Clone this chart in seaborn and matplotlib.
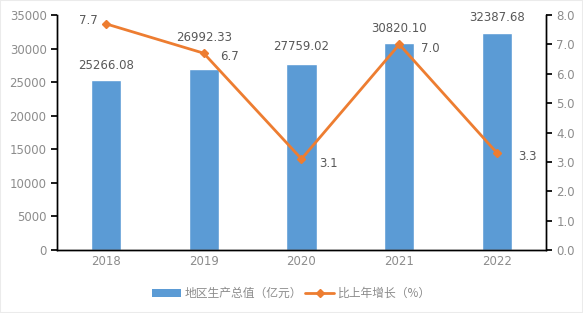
import matplotlib
matplotlib.use("Agg")
import matplotlib.pyplot as plt
import seaborn as sns
import pandas as pd
from matplotlib.lines import Line2D
from matplotlib.patches import Patch, Rectangle

years = ["2018", "2019", "2020", "2021", "2022"]
gdp = [25266.08, 26992.33, 27759.02, 30820.10, 32387.68]
growth = [7.7, 6.7, 3.1, 7.0, 3.3]
bar_label = "地区生产总值（亿元）"
line_label = "比上年增长（%）"

sns.set_theme(style="white")
plt.rcParams['font.family'] = ['Noto Sans CJK SC', 'DejaVu Sans']

df = pd.DataFrame({"year": years, "gdp": gdp, "growth": growth})

fig = plt.figure(figsize=(5.83, 3.13), dpi=100)
ax = fig.add_axes([0.0978, 0.2013, 0.8387, 0.7507])
bar_c = "#5B9BD5"
line_c = "#ED7D31"
txt_c = "#595959"
tick_c = "#8C8C8C"

sns.barplot(data=df, x="year", y="gdp", color=bar_c, width=0.31, ax=ax, saturation=1)
ax.set_ylim(0, 35000)
ax.set_yticks(range(0, 35001, 5000))
ax.set_xlim(-0.5, 4.5)
ax.set_xlabel("")
ax.set_ylabel("")
bar_dy = [15, 31, 17, 15, 15]
for i, v in enumerate(gdp):
    ax.annotate(f"{v:.2f}", (i, v), xytext=(0, bar_dy[i]), textcoords="offset pixels",
                ha="center", va="center", fontsize=8.5, color=txt_c, family="DejaVu Sans")

ax2 = ax.twinx()
ax2.plot(range(len(years)), growth, color=line_c, lw=2.0, marker="D", ms=4.5)
ax2.set_ylim(0, 8)
ax2.set_yticks(list(range(0, 9)))
ax2.set_yticklabels([f"{i:.1f}" for i in range(0, 9)])
offsets = [(-8, 3, "right"), (16, -3, "left"), (18, -5, "left"), (22, -4, "left"), (21, -3, "left")]
for i, v in enumerate(growth):
    dx, dy, ha = offsets[i]
    ax2.annotate(f"{v:.1f}", (i, v), xytext=(dx, dy), textcoords="offset pixels",
                 ha=ha, va="center", fontsize=8.5, color=txt_c, family="DejaVu Sans")

for a in (ax, ax2):
    a.spines["top"].set_visible(False)
    for s in ("left", "right", "bottom"):
        a.spines[s].set_color("black")
        a.spines[s].set_linewidth(1.0)
    a.tick_params(axis="both", colors=tick_c, labelsize=8.5, length=0)
    a.grid(False)
ax.tick_params(axis="y", length=4, color="black", direction="out")
ax2.tick_params(axis="y", length=4, color="black", direction="out")
for lbl in ax.get_xticklabels() + ax.get_yticklabels() + ax2.get_yticklabels():
    lbl.set_family("DejaVu Sans")

handles = [Patch(facecolor=bar_c, edgecolor="none"),
           Line2D([0], [0], color=line_c, lw=2.0, marker="D", ms=4.5)]
leg = fig.legend(handles, [bar_label, line_label], loc="center", bbox_to_anchor=(0.5, 0.063),
                 ncol=2, frameon=False, fontsize=8.5, handlelength=2.5, columnspacing=0.2,
                 handletextpad=0.3)
for t in leg.get_texts():
    t.set_color(tick_c)

fig.patches.append(Rectangle((0, 0), 1, 1, transform=fig.transFigure, fill=False,
                             edgecolor="#EBEBEB", lw=1.5))
fig.savefig("out.png", dpi=100)
